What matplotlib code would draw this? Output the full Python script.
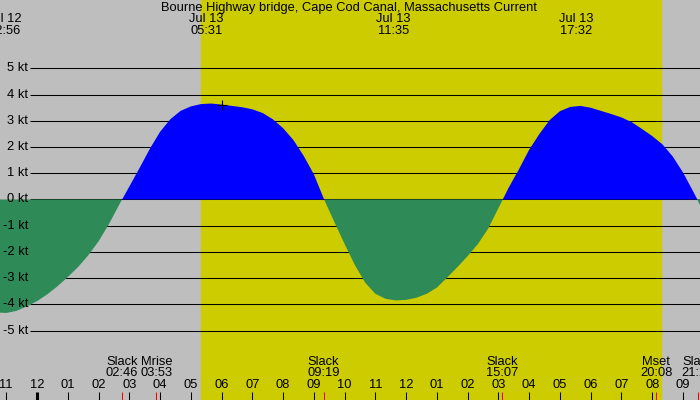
import matplotlib
matplotlib.use('Agg')

import matplotlib.pyplot as plt
import numpy as np

# current speed, knots, read every 20 minutes (minutes from 00:00 Jul 13)
minutes = [-80, -60, -40, -20, 0, 20, 40, 60, 80, 100, 120, 140, 160,
	180, 200, 220, 240, 260, 280, 300, 320, 340, 360, 380, 400, 420, 440,
	460, 480, 500, 520, 540, 560, 580, 600, 620, 640, 660, 680, 700, 720,
	740, 760, 780, 800, 820, 840, 860, 880, 900, 920, 940, 960, 980, 1000,
	1020, 1040, 1060, 1080, 1100, 1120, 1140, 1160, 1180, 1200, 1220, 1240,
	1260, 1280, 1300]
speed = [-4.31, -4.33, -4.25, -4.08, -3.88, -3.62, -3.31, -2.96, -2.58,
	-2.13, -1.60, -0.95, -0.21, 0.49, 1.20, 1.93, 2.58, 3.06, 3.38, 3.55,
	3.64, 3.66, 3.62, 3.57, 3.52, 3.44, 3.30, 3.06, 2.72, 2.27, 1.67, 0.96,
	0.00, -0.86, -1.70, -2.50, -3.17, -3.60, -3.79, -3.85, -3.83, -3.75,
	-3.60, -3.36, -2.98, -2.58, -2.16, -1.70, -1.11, -0.33, 0.45, 1.15, 1.90,
	2.50, 3.03, 3.37, 3.53, 3.57, 3.50, 3.38, 3.26, 3.13, 2.95, 2.69, 2.42,
	2.10, 1.64, 1.03, 0.30, -0.45]

# max current labels (top)
peak_hours = [-1.067, 5.517, 11.583, 17.533]
peak_days = ["Jul 12", "Jul 13", "Jul 13", "Jul 13"]
peak_times = ["22:56", "05:31", "11:35", "17:32"]

# events (bottom)
event_hours = [2.767, 3.883, 9.317, 15.117, 20.133, 21.483]
event_names = ["Slack", "Mrise", "Slack", "Slack", "Mset", "Slack"]
event_times = ["02:46", "03:53", "09:19", "15:07", "20:08", "21:29"]

hour_ticks = list(range(-1, 22))
hour_labels = ["11", "12", "01", "02", "03", "04", "05", "06", "07", "08",
	"09", "10", "11", "12", "01", "02", "03", "04", "05", "06", "07", "08", "09"]

kt_levels = [5, 4, 3, 2, 1, 0, -1, -2, -3, -4, -5]

sunrise, sunset = 5.333, 20.283
now_hour, now_speed = 6.014, 3.61

title = "Bourne Highway bridge, Cape Cod Canal, Massachusetts Current"

plt.rcParams['font.family'] = ['Liberation Sans', 'DejaVu Sans']
FS = 9.3

t = np.array(minutes) / 60.0
v = np.array(speed)

fig = plt.figure(figsize=(7, 4), dpi=100)
ax = fig.add_axes([0, 0, 1, 1])
x0, x1 = -1.203, 21.553
y0, y1 = -7.65, 7.61
ax.set_xlim(x0, x1)
ax.set_ylim(y0, y1)
ax.axis('off')

ax.axvspan(x0, x1, color='#bebebe', zorder=0)
ax.axvspan(sunrise, sunset, color='#cccc00', zorder=0.5)

ax.hlines(kt_levels, -0.228, x1, color='black', lw=0.75, zorder=1)
for k in kt_levels:
	ax.text(-0.29, k, "%d kt" % k, ha='right', va='center', fontsize=FS, zorder=4)

ax.fill_between(t, 0, v, where=v >= 0, interpolate=True, color='#0000ff', lw=0, zorder=2)
ax.fill_between(t, 0, v, where=v <= 0, interpolate=True, color='#2e8b57', lw=0, zorder=2)

ax.plot([now_hour], [now_speed], marker='+', color='black', ms=7, mew=0.8, zorder=3)

ax.text((x0 + x1) / 2 - 0.03, 7.31, title, ha='center', va='center', fontsize=FS)
for h, d, s in zip(peak_hours, peak_days, peak_times):
	ax.text(h, 6.89, d, ha='center', va='center', fontsize=FS)
	ax.text(h, 6.43, s, ha='center', va='center', fontsize=FS)

for h, n, s in zip(event_hours, event_names, event_times):
	ax.text(h, -6.2, n, ha='center', va='center', fontsize=FS)
	ax.text(h, -6.62, s, ha='center', va='center', fontsize=FS)
	ax.vlines(h, y0, -7.35, color='#ff0000', lw=0.75, zorder=3)

for h, lab in zip(hour_ticks, hour_labels):
	ax.text(h, -7.08, lab, ha='center', va='center', fontsize=FS)
	ax.vlines(h, y0, -7.35, color='black', lw=2.2 if h == 0 else 0.75, zorder=3)

fig.savefig('out.png', dpi=100)
